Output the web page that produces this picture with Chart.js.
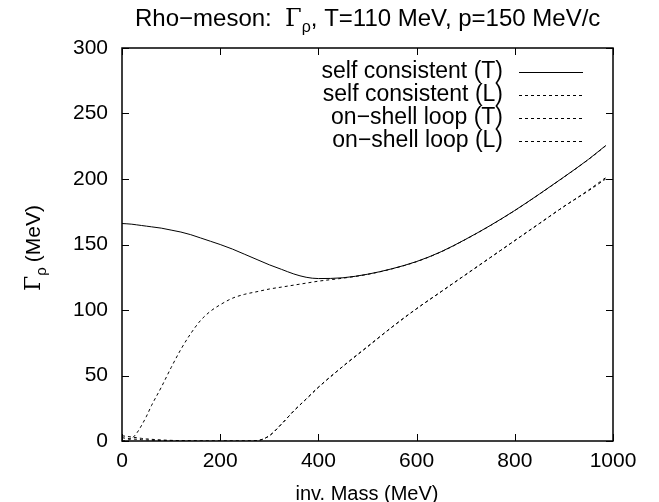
<!DOCTYPE html>
<html>
<head>
<meta charset="utf-8">
<script src="https://cdn.jsdelivr.net/npm/chart.js@4.4.1/dist/chart.umd.min.js"></script>
<style>
  body { margin: 0; background: #fff; }
  #wrap { width: 659px; height: 502px; }
</style>
</head>
<body>
<div id="wrap"><canvas id="myChart" width="659" height="502"></canvas></div>
<script>
// inv. mass grid (MeV)
const mass = [0, 10, 20, 30, 40, 50, 60, 80, 100, 120, 140, 160, 180, 200, 225, 250, 275, 300,
  325, 350, 375, 400, 450, 500, 550, 600, 650, 700, 750, 800, 850, 900, 950, 985];

const selfT = [166, 165.8, 165.5, 165, 164.5, 164, 163.5, 162.5, 161, 159.5, 157.5, 155, 152.5, 150,
  146.5, 142.5, 138.5, 134.5, 131, 127.5, 125, 124, 124.6, 127.3, 131.5, 137, 144.5, 154, 164.5, 176,
  188.5, 201.5, 215, 225.5];

const selfL = [0, 0.5, 2, 6, 12, 19, 27, 41, 56, 70, 82, 92, 99, 104, 109, 112, 114, 116,
  117.5, 119, 120.5, 122, 124.3, 127.2, 131.4, 136.9, 144.4, 153.9, 164.4, 175.9, 188.4, 201.4,
  214.9, 225.3];

const shellT = [4, 3.5, 3, 2.5, 2, 1.6, 1.3, 0.8, 0.5, 0.3, 0.2, 0.1, 0, 0, 0, 0, 0.3, 4,
  13, 23, 32, 41, 57, 72, 87, 101, 114, 127, 140, 153, 166, 179, 191, 200];

const shellL = [2.5, 2, 1.6, 1.3, 1, 0.8, 0.6, 0.4, 0.2, 0.1, 0, 0, 0, 0, 0, 0, 0.3, 4,
  13, 23, 32, 41, 57, 72, 87, 101, 114, 127, 140, 153, 166, 179, 191.5, 201];

const seriesNames = ['self consistent (T)', 'self consistent (L)', 'on\u2212shell loop (T)', 'on\u2212shell loop (L)'];
const xTicks = [0, 200, 400, 600, 800, 1000];
const yTicks = [0, 50, 100, 150, 200, 250, 300];

const FONT = 'Liberation Sans, Arial, Helvetica, sans-serif';

function pts(ys) {
  return mass.map((m, i) => ({ x: m, y: ys[i] }));
}

function makeSet(label, ys, dash) {
  return {
    label: label,
    data: pts(ys),
    borderColor: '#000',
    borderWidth: 1,
    borderDash: dash,
    pointRadius: 0,
    showLine: true,
    fill: false,
    cubicInterpolationMode: 'monotone'
  };
}

// frame, inward ticks, legend, title and axis labels drawn like gnuplot
const decor = {
  id: 'decor',
  afterDatasetsDraw(chart) {
    const ctx = chart.ctx;
    const a = chart.chartArea;
    const xs = chart.scales.x, ys = chart.scales.y;
    ctx.save();
    ctx.strokeStyle = '#000';
    ctx.lineWidth = 1.5;
    ctx.setLineDash([]);
    ctx.strokeRect(a.left, a.top, a.right - a.left, a.bottom - a.top);
    ctx.lineWidth = 1;
    ctx.beginPath();
    xTicks.forEach(v => {
      const px = Math.round(xs.getPixelForValue(v)) + 0.5;
      ctx.moveTo(px, a.bottom); ctx.lineTo(px, a.bottom - 7);
      ctx.moveTo(px, a.top); ctx.lineTo(px, a.top + 7);
    });
    yTicks.forEach(v => {
      const py = Math.round(ys.getPixelForValue(v)) + 0.5;
      ctx.moveTo(a.left, py); ctx.lineTo(a.left + 7, py);
      ctx.moveTo(a.right, py); ctx.lineTo(a.right - 7, py);
    });
    ctx.stroke();

    // legend
    ctx.fillStyle = '#000';
    ctx.font = '23px ' + FONT;
    ctx.textAlign = 'right';
    ctx.textBaseline = 'middle';
    const rowY = [72, 95, 118, 141];
    chart.data.datasets.forEach((ds, i) => {
      ctx.fillText(ds.label, 503, rowY[i]);
      ctx.setLineDash(ds.borderDash || []);
      ctx.beginPath();
      ctx.moveTo(519, rowY[i] + 0.5);
      ctx.lineTo(583, rowY[i] + 0.5);
      ctx.stroke();
    });
    ctx.setLineDash([]);

    // title with subscript
    ctx.textAlign = 'left';
    ctx.textBaseline = 'alphabetic';
    ctx.font = '24px ' + FONT;
    let x = 135;
    const by = 26;
    const part1 = 'Rho\u2212meson:  ';
    ctx.fillText(part1, x, by); x += ctx.measureText(part1).width;
    ctx.font = '24px DejaVu Serif, serif';
    ctx.fillText('\u0393', x, by); x += ctx.measureText('\u0393').width;
    ctx.font = '16px ' + FONT;
    ctx.fillText('\u03c1', x, by + 6); x += ctx.measureText('\u03c1').width;
    ctx.font = '24px ' + FONT;
    ctx.fillText(', T=110 MeV, p=150 MeV/c', x, by);

    // y axis label, rotated
    ctx.save();
    ctx.translate(40, 291);
    ctx.rotate(-Math.PI / 2);
    let yx = 0;
    ctx.font = '22px DejaVu Serif, serif';
    ctx.fillText('\u0393', yx, 0); yx += ctx.measureText('\u0393').width;
    ctx.font = '15px ' + FONT;
    ctx.fillText('\u03c1', yx, 6); yx += ctx.measureText('\u03c1').width + 5;
    ctx.font = '21px ' + FONT;
    ctx.fillText('(MeV)', yx, 0);
    ctx.restore();

    // x axis label
    ctx.textAlign = 'center';
    ctx.font = '20px ' + FONT;
    ctx.fillText('inv. Mass (MeV)', 367, 500);
    ctx.restore();
  }
};

function renderChart() {
  const data = {
    datasets: [
      makeSet(seriesNames[0], selfT, []),
      makeSet(seriesNames[1], selfL, [3, 3]),
      makeSet(seriesNames[2], shellT, [3, 3]),
      makeSet(seriesNames[3], shellL, [3, 3])
    ]
  };

  const tickFont = { family: FONT, size: 21 };

  const config = {
    type: 'scatter',
    data,
    options: {
      responsive: false,
      animation: false,
      layout: { padding: { top: 48, right: 46, left: 0, bottom: 0 } },
      plugins: {
        legend: { display: false },
        tooltip: { enabled: false }
      },
      scales: {
        x: {
          type: 'linear',
          min: 0, max: 1000,
          afterBuildTicks: s => { s.ticks = xTicks.map(v => ({ value: v })); },
          afterFit: s => { s.height = 61; },
          grid: { display: false, drawTicks: false },
          border: { display: false },
          ticks: { color: '#000', font: tickFont, padding: 8, maxRotation: 0, callback: v => String(v) }
        },
        y: {
          type: 'linear',
          min: 0, max: 300,
          afterBuildTicks: s => { s.ticks = yTicks.map(v => ({ value: v })); },
          afterFit: s => { s.width = 122; },
          grid: { display: false, drawTicks: false },
          border: { display: false },
          ticks: { color: '#000', font: tickFont, padding: 14, callback: v => String(v) }
        }
      }
    },
    plugins: [decor]
  };

  new Chart(document.getElementById('myChart'), config);
}

renderChart();
</script>
</body>
</html>
